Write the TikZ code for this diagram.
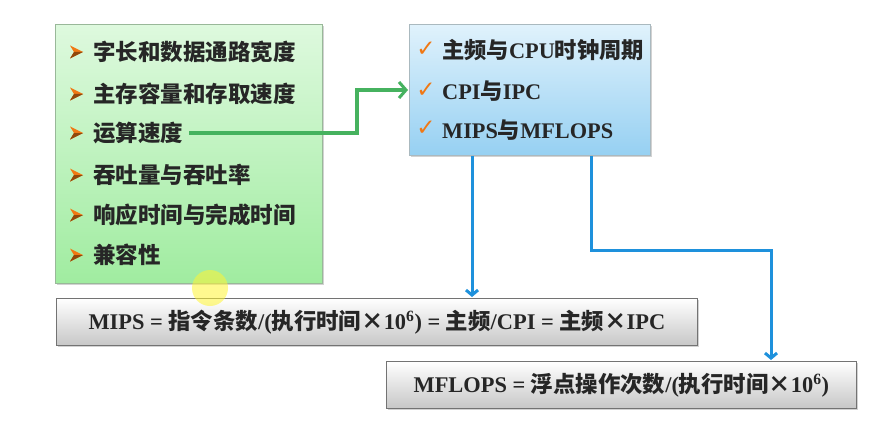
\documentclass[tikz,border=0pt]{standalone}
\usepackage{fontspec}
\setmainfont{Liberation Serif}
\newfontfamily\cjk{Noto Sans CJK SC}
\newfontfamily\sym{DejaVu Sans}
\usetikzlibrary{shadows,arrows.meta}
\newcommand\zh[1]{{\cjk\bfseries #1}}
\definecolor{bul}{RGB}{240,120,20}
\definecolor{garr}{RGB}{70,178,95}
\definecolor{barr}{RGB}{30,145,220}
\begin{document}
\begin{tikzpicture}[x=1pt,y=-1pt,
  box/.style={draw=black!45, line width=0.8pt, anchor=north west, inner sep=0pt,
    drop shadow={shadow xshift=2pt, shadow yshift=-2pt, opacity=0.35}},
  greenbox/.style={box, draw=green!30!black!40, top color={rgb,255:red,222;green,249;blue,222}, bottom color={rgb,255:red,160;green,236;blue,160}},
  bluebox/.style={box, draw=cyan!30!black!40, top color={rgb,255:red,224;green,242;blue,252}, bottom color={rgb,255:red,150;green,208;blue,242}},
  greybox/.style={box, draw=black!55, top color=white, bottom color=black!22},
  item/.style={anchor=west, inner sep=0pt, font=\fontsize{22.5}{26}\selectfont\bfseries, text=black!85},
  bitem/.style={anchor=west, inner sep=0pt, font=\fontsize{22.3}{26}\selectfont\bfseries, text=black!85},
  formula/.style={inner sep=0pt, font=\fontsize{22.4}{26}\selectfont\bfseries, text=black!85},
  tick/.style={anchor=center, inner sep=0pt, text=bul, font=\sym\bfseries\fontsize{23}{23}\selectfont},
  garrow/.style={draw=garr, line width=3.2pt, -{Straight Barb[length=7pt,width=16pt,line width=3pt]}},
  barrow/.style={draw=barr, line width=3pt, -{Straight Barb[length=5pt,width=12pt,line width=3pt]}},
  pics/bullet/.style={code={
    \fill[bul] (-6,-6.5) -- (7,0) -- (-6,6.5) -- (-2,0) -- cycle;
    \fill[bul!60!black] (-2,0) -- (7,0) -- (-6,6.5) -- cycle;}}
]
\useasboundingbox[fill=white] (0,0) rectangle (880,441);

% green box
\node[greenbox, minimum width=267pt, minimum height=259pt] (gbox) at (55,24) {};
\foreach \y/\n/\t in {52/i1/字长和数据通路宽度, 94/i2/主存容量和存取速度, 133/i3/运算速度, 175/i4/吞吐量与吞吐率, 215/i5/响应时间与完成时间, 255/i6/兼容性}{
  \pic at (76,\y) {bullet};
  \node[item] (\n) at (93,\y) {\zh{\t}};
}

% blue box
\node[bluebox, minimum width=241pt, minimum height=131pt] (bbox) at (409,24) {};
\node[tick] (t1) at (426,49) {✓};
\node[tick] (t2) at (426,90) {✓};
\node[tick] (t3) at (426,128) {✓};
\node[bitem] (b1) at (442,50) {\zh{主频与}CPU\zh{时钟周期}};
\node[bitem] (b2) at (442,91) {CPI\zh{与}IPC};
\node[bitem] (b3) at (442,130) {MIPS\zh{与}MFLOPS};

% formula boxes
\node[greybox, minimum width=641pt, minimum height=47pt] (mips) at (56,298) {};
\node[formula] (mipst) at (mips.center) {MIPS = \zh{指令条数}/(\zh{执行时间×}10\textsuperscript{6}) = \zh{主频}/CPI = \zh{主频×}IPC};
\node[greybox, minimum width=470pt, minimum height=47pt] (mfl) at (386,361) {};
\node[formula] (mflt) at (mfl.center) {MFLOPS = \zh{浮点操作次数}/(\zh{执行时间×}10\textsuperscript{6})};

% connectors
\coordinate (jg) at (357,90);
\draw[garrow] ([xshift=6pt]i3.east) -| (jg) -- ([xshift=-1pt]jg -| bbox.west);
\coordinate (s1) at (472,0);
\draw[barrow] (s1 |- bbox.south) -- ([yshift=1pt]s1 |- mips.north);
\coordinate (s2) at (591,0);
\coordinate (k2) at (771,250);
\draw[barrow] (s2 |- bbox.south) |- (k2) -- ([yshift=1pt]k2 |- mfl.north);

% cursor highlight
\fill[yellow!80!white, opacity=0.55] (210,288) circle (18);
\end{tikzpicture}
\end{document}
